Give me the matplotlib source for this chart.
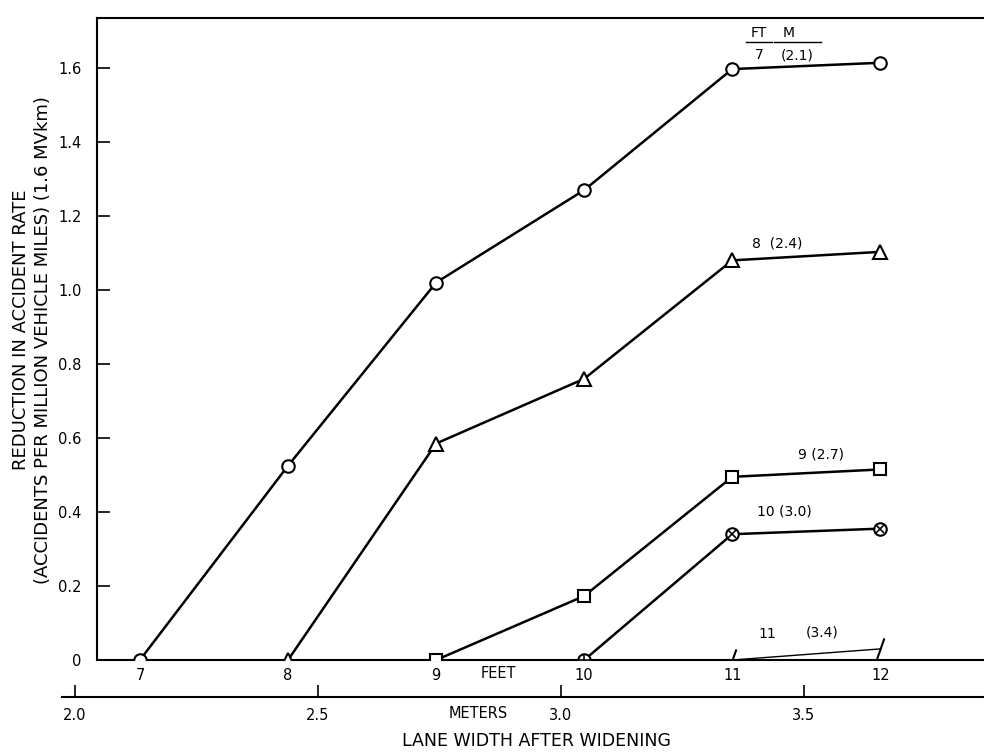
import matplotlib.pyplot as plt
from matplotlib.path import Path

plt.rcParams['font.family'] = ['DejaVu Sans']

# lane width after widening (ft) and reduction in accident rate, by original width
feet = [7, 8, 9, 10, 11, 12]
from_7ft_x = [7, 8, 9, 10, 11, 12]
from_7ft_y = [0.0, 0.525, 1.02, 1.27, 1.597, 1.614]
from_8ft_x = [8, 9, 10, 11, 12]
from_8ft_y = [0.0, 0.585, 0.76, 1.08, 1.103]
from_9ft_x = [9, 10, 11, 12]
from_9ft_y = [0.0, 0.173, 0.495, 0.515]
from_10ft_x = [10, 11, 12]
from_10ft_y = [0.0, 0.34, 0.355]
from_11ft_x = [11, 12]
from_11ft_y = [0.0, 0.03]

yticks = [0, 0.2, 0.4, 0.6, 0.8, 1.0, 1.2, 1.4, 1.6]
ytick_labels = ['0', '0.2', '0.4', '0.6', '0.8', '1.0', '1.2', '1.4', '1.6']
meters = [2.0, 2.5, 3.0, 3.5]
meter_labels = ['2.0', '2.5', '3.0', '3.5']

W, H = 984, 754
fig = plt.figure(figsize=(W / 100, H / 100), dpi=100)

# main axes in pixel terms: left spine x=97, y=0 line at 660, top at 18
ax_l, ax_b, ax_t = 97, 660, 18
ax = fig.add_axes([ax_l / W, (H - ax_b) / H, (W - ax_l) / W, (ax_b - ax_t) / H])
x_lo, x_hi = 6.71, 12.70
ax.set_xlim(x_lo, x_hi)
ax.set_ylim(0, 1.735)

lw = 1.8
ax.plot(from_7ft_x, from_7ft_y, color='black', lw=lw, marker='o', ms=9,
        mfc='white', mec='black', mew=1.5, zorder=3)
ax.plot(from_8ft_x, from_8ft_y, color='black', lw=lw, marker='^', ms=10,
        mfc='white', mec='black', mew=1.5, zorder=3)
ax.plot(from_9ft_x, from_9ft_y, color='black', lw=lw, marker='s', ms=9,
        mfc='white', mec='black', mew=1.5, zorder=3)
ax.plot(from_10ft_x, from_10ft_y, color='black', lw=lw, marker='o', ms=9,
        mfc='white', mec='black', mew=1.5, zorder=3)
# crossed circles: plus at the start, x on the others
ax.plot(from_10ft_x[:1], from_10ft_y[:1], ls='none', marker='+', ms=9,
        color='black', mew=1.2, zorder=4)
ax.plot(from_10ft_x[1:], from_10ft_y[1:], ls='none', marker='x', ms=6,
        color='black', mew=1.2, zorder=4)
slash = Path([(-0.35, -1.0), (0.35, 1.0)], [Path.MOVETO, Path.LINETO])
ax.plot(from_11ft_x, from_11ft_y, color='black', lw=1.0, marker=slash, ms=16,
        mec='black', mew=1.5, zorder=3)

# curve labels
lab = dict(fontsize=10, color='black', ha='center', va='center')
ax.text(11.18, 1.695, 'FT', **lab)
ax.text(11.38, 1.695, 'M', **lab)
ax.plot([11.09, 11.27], [1.67, 1.67], color='black', lw=1.0)
ax.plot([11.28, 11.60], [1.67, 1.67], color='black', lw=1.0)
ax.text(11.18, 1.635, '7', **lab)
ax.text(11.44, 1.635, '(2.1)', **lab)
ax.text(11.30, 1.125, '8  (2.4)', **lab)
ax.text(11.6, 0.555, '9 (2.7)', **lab)
ax.text(11.35, 0.40, '10 (3.0)', **lab)
ax.text(11.24, 0.07, '11', **lab)
ax.text(11.61, 0.075, '(3.4)', **lab)

for side in ['right']:
    ax.spines[side].set_visible(False)
for side in ['left', 'bottom', 'top']:
    ax.spines[side].set_linewidth(1.5)

ax.set_yticks(yticks)
ax.set_yticklabels(ytick_labels, fontsize=10.5)
ax.tick_params(axis='y', direction='in', length=9, width=1.2, pad=11)
ax.set_xticks(feet)
ax.set_xticklabels([str(f) for f in feet], fontsize=10.5)
ax.tick_params(axis='x', length=0, pad=6)
ax.annotate('FEET', xy=(9.42, 0), xycoords=('data', 'axes fraction'),
            xytext=(0, -9.5), textcoords='offset points',
            ha='center', va='center', fontsize=10.5)

# meters scale under the feet scale
px_per_ft = (W - ax_l) / (x_hi - x_lo)
m_left = 62
ft_left = x_lo - (ax_l - m_left) / px_per_ft
ax2 = fig.add_axes([m_left / W, (H - 697) / H, (W - m_left) / W, 0.001])
ax2.set_xlim(ft_left * 0.3048, x_hi * 0.3048)
ax2.set_yticks([])
for side in ['left', 'right', 'top']:
    ax2.spines[side].set_visible(False)
ax2.spines['bottom'].set_linewidth(1.5)
ax2.patch.set_alpha(0)
ax2.set_xticks(meters)
ax2.set_xticklabels(meter_labels, fontsize=10.5)
ax2.tick_params(axis='x', direction='in', length=9, width=1.2, pad=8)
ax2.annotate('METERS', xy=(2.83, 0), xycoords=('data', 'axes fraction'),
             xytext=(0, -12), textcoords='offset points',
             ha='center', va='center', fontsize=10.5)

fig.text(537 / W, 1 - 741 / H, 'LANE WIDTH AFTER WIDENING', ha='center',
         va='center', fontsize=12.5)
fig.text(21 / W, 1 - 330 / H, 'REDUCTION IN ACCIDENT RATE', rotation=90,
         ha='center', va='center', fontsize=13)
fig.text(43 / W, 1 - 340 / H,
         '(ACCIDENTS PER MILLION VEHICLE MILES) (1.6 MVkm)', rotation=90,
         ha='center', va='center', fontsize=13)

fig.savefig('out.png', dpi=100)
